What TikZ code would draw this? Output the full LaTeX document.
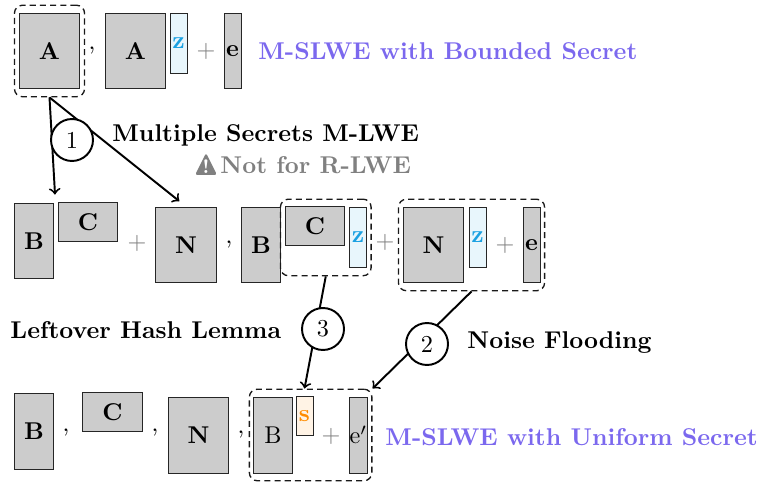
\documentclass[tikz,border=0pt]{standalone}
\usetikzlibrary{fit}
\definecolor{zblue}{HTML}{1BA1E2}
\definecolor{sorange}{HTML}{FF8C00}
\definecolor{titlecol}{HTML}{7B68EE}
\begin{document}
\begin{tikzpicture}[x=0.412pt, y=-0.412pt,
        mat/.style={draw=black!85, fill=black!20, inner sep=0pt, font=\bfseries},
        sq/.style={mat, minimum width=25.1pt, minimum height=31.3pt},
        tall/.style={mat, minimum width=15.7pt, minimum height=31.3pt},
        wide/.style={mat, minimum width=24.7pt, minimum height=15.7pt},
        evec/.style={mat, minimum width=7pt, minimum height=31.3pt},
        zvec/.style={draw=black!85, fill=zblue!10, text=zblue, inner sep=0pt, font=\bfseries, minimum width=7pt, minimum height=25.1pt},
        svec/.style={draw=black!85, fill=sorange!10, text=sorange, inner sep=0pt, font=\bfseries, minimum width=7pt, minimum height=15.7pt},
        plus/.style={text=gray, inner sep=0pt},
        grp/.style={draw=black!90, line width=0.55pt, dash pattern=on 2.5pt off 1.7pt, rounded corners=3.3pt, inner xsep=1.7pt, inner ysep=3pt},
        stepnum/.style={circle, draw, thick, fill=white, minimum size=17.3pt, inner sep=0pt},
        lbl/.style={font=\bfseries, anchor=west, inner sep=0pt},
        title/.style={font=\bfseries, text=titlecol, anchor=west, inner sep=0pt},
        arr/.style={->, thick, shorten >=3.5pt}]
        \useasboundingbox (0,0) rectangle (763,482);
        % bounded secret
        \node[sq] (A1) at (49.5, 51) {A};
        \node (cm1) at (92, 51) {,};
        \node[sq] (A2) at (135.5, 51) {A};
        \node[zvec] (z1) at (178.5, 43.5) {z};
        \node[plus] (p1) at (206, 51) {$+$};
        \node[evec] (e1) at (232.5, 51) {e};
        \node[title] (t1) at (258, 51) {M-SLWE with Bounded Secret};
        \node[grp, fit=(A1)] (g1) {};
        % multiple secrets
        \node[tall] (B2) at (34, 241) {B};
        \node[wide] (C2) at (88, 222) {C};
        \node[plus] (p2) at (137, 243) {$+$};
        \node[sq] (N2) at (186, 245) {N};
        \node (cm2) at (229, 245) {,};
        \node[tall] (B3) at (261, 245) {B};
        \node[wide] (C3) at (315, 226) {C};
        \node[zvec] (z2) at (358, 237.5) {z};
        \node[plus] (p3) at (385, 242) {$+$};
        \node[sq] (N3) at (433.5, 245) {N};
        \node[zvec] (z3) at (477.5, 237.5) {z};
        \node[plus] (p4) at (505, 245) {$+$};
        \node[evec] (e2) at (531.5, 245) {e};
        \node[grp, fit=(C3) (z2)] (g2) {};
        \node[grp, fit=(N3) (z3) (e2)] (g3) {};
        \coordinate (bc) at (55.5, 203);
        % uniform secret
        \node[tall] (B4) at (34, 431) {B};
        \node (cm3) at (66, 433) {,};
        \node[wide] (C4) at (112.5, 412) {C};
        \node (cm4) at (155, 433) {,};
        \node[sq] (N4) at (198.5, 435) {N};
        \node (cm5) at (241, 435) {,};
        \node[tall, font=\normalfont] (B5) at (273, 435) {B};
        \node[svec] (s) at (304.5, 416) {s};
        \node[plus] (p5) at (331, 436) {$+$};
        \node[evec, font=\normalfont] (e3) at (358.5, 435) {e$'$};
        \node[title] (t2) at (385, 437) {M-SLWE with Uniform Secret};
        \node[grp, fit=(B5) (s) (e3)] (g4) {};
        % steps
        \draw[arr] (g1.south) -- (bc);
        \draw[arr] (g1.south) -- (N2.north);
        \draw[->, thick] (g2.south) -- (s.north |- g4.north);
        \draw[->, thick] (g3.south) -- (g4.north east);
        \node[stepnum] (n1) at (72, 140) {1};
        \node[stepnum] (n3) at (323, 329) {3};
        \node[stepnum] (n2) at (427, 344) {2};
        \node[lbl] (l1) at (112, 135) {Multiple Secrets M-LWE};
        \fill[gray, rounded corners=1pt] (195, 175) -- (217, 175) -- (206, 153) -- cycle;
        \node[text=white, font=\footnotesize\bfseries, inner sep=0pt] (ex) at (206, 167) {!};
        \node[lbl, text=gray] (l2) at (220, 165) {Not for R-LWE};
        \node[lbl] (l3) at (10, 330) {Leftover Hash Lemma};
        \node[lbl] (l4) at (467, 343) {Noise Flooding};
    \end{tikzpicture}
\end{document}
